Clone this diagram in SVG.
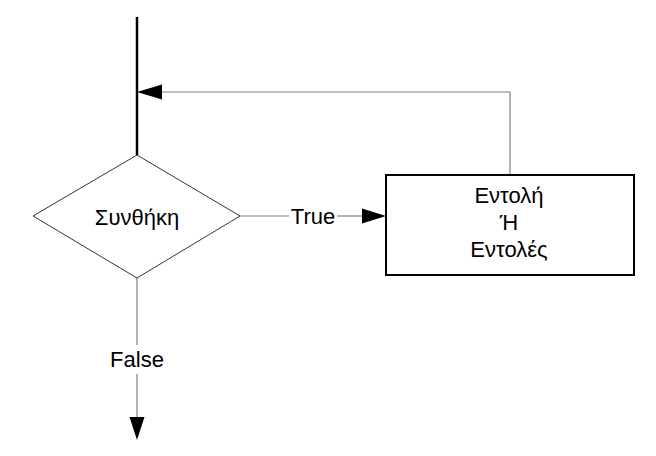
<svg xmlns="http://www.w3.org/2000/svg" width="656" height="456" viewBox="0 0 656 456">
<style>
.t{font-family:"Liberation Sans",Arial,sans-serif;font-size:22px;fill:#000;text-anchor:middle}
.c{stroke:#808080;stroke-width:1.2;fill:none}
.ah{fill:#000}
</style>
<rect width="656" height="456" fill="#fff"/>
<g id="connectors">
<line x1="137" y1="17" x2="137" y2="155" stroke="#000" stroke-width="2.5"/>
<polyline class="c" points="510,175 510,92 162,92"/>
<polygon class="ah" points="137,92 162,84.5 162,99.5"/>
<line class="c" x1="240" y1="216" x2="289" y2="216"/>
<line class="c" x1="337" y1="216" x2="362" y2="216"/>
<polygon class="ah" points="386,216 362,208.5 362,223.5"/>
<text class="t" x="313" y="224">True</text>
<line class="c" x1="137" y1="278" x2="137" y2="345"/>
<line class="c" x1="137" y1="374" x2="137" y2="417"/>
<polygon class="ah" points="137,440 129.5,417 144.5,417"/>
<text class="t" x="137" y="367">False</text>
</g>
<g id="condition">
<polygon points="137,155 240,216 137,278 33,216" fill="#fff" stroke="#000" stroke-width="0.8"/>
<text class="t" x="137" y="225">Συνθήκη</text>
</g>
<g id="statements">
<rect x="386" y="175" width="248" height="100" fill="#fff" stroke="#000" stroke-width="2"/>
<text class="t" x="509" y="203">Εντολή</text>
<text class="t" x="509" y="230">Ή</text>
<text class="t" x="509" y="257">Εντολές</text>
</g>
</svg>
